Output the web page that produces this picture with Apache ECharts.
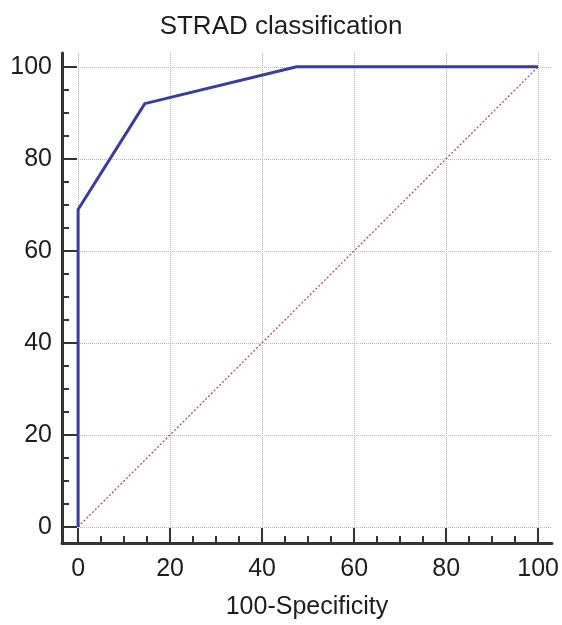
<!DOCTYPE html>
<html>
<head>
<meta charset="utf-8">
<script src="https://cdn.jsdelivr.net/npm/echarts@6/dist/echarts.min.js"></script>
<style>
  html, body { margin: 0; padding: 0; background: #fff; }
  #chart { width: 562px; height: 625px; }
</style>
</head>
<body>
<div id="chart"></div>
<script>
// ROC curve points (100-Specificity, Sensitivity)
const fpr = [0, 0, 14.5, 47.5, 100]
const tpr = [0, 69, 92, 100, 100]
// reference diagonal
const diagX = [0, 100]
const diagY = [0, 100]
const majorTicks = [0, 20, 40, 60, 80, 100]
const minorTicks = [5, 10, 15, 25, 30, 35, 45, 50, 55, 65, 70, 75, 85, 90, 95]

const axisColor = '#333'
const font = 'Liberation Sans, Arial, sans-serif'

const myChart = echarts.init(document.getElementById('chart'))

function majorAxis(isX) {
  return {
    type: 'value',
    min: -3.5,
    max: 103,
    name: isX ? '100-Specificity' : '',
    nameLocation: 'middle',
    nameGap: 52,
    nameTextStyle: { fontSize: 25, color: '#1e1e1e', fontFamily: font },
    axisLine: { show: true, onZero: false, lineStyle: { color: axisColor, width: 3 } },
    axisTick: {
      show: true,
      inside: true,
      length: 15,
      customValues: majorTicks,
      lineStyle: { color: axisColor, width: 2 }
    },
    axisLabel: {
      customValues: majorTicks,
      fontSize: 25,
      color: '#1e1e1e',
      fontFamily: font,
      margin: isX ? 14 : 10
    },
    splitLine: {
      show: true,
      lineStyle: { color: '#b8b8b8', type: 'dotted', width: 1 }
    }
  }
}

function minorAxis() {
  return {
    type: 'value',
    min: -3.5,
    max: 103,
    axisLine: { show: false, onZero: false },
    axisTick: {
      show: true,
      inside: true,
      length: 7,
      customValues: minorTicks,
      lineStyle: { color: axisColor, width: 2 }
    },
    axisLabel: { show: false },
    splitLine: { show: false }
  }
}

const xMinor = minorAxis()
xMinor.position = 'bottom'
const yMinor = minorAxis()
yMinor.position = 'left'

myChart.setOption({
  animation: false,
  title: {
    text: 'STRAD classification',
    left: 'center',
    top: 9,
    textStyle: { fontSize: 26, fontWeight: 'normal', color: '#1e1e1e', fontFamily: font }
  },
  grid: {
    left: 62,
    right: 9,
    top: 53,
    bottom: 81
  },
  xAxis: [majorAxis(true), xMinor],
  yAxis: [majorAxis(false), yMinor],
  series: [
    {
      name: 'diagonal',
      type: 'line',
      symbol: 'none',
      data: diagX.map((x, i) => [x, diagY[i]]),
      lineStyle: { color: '#9c4c3e', width: 1.2, type: [2, 2] }
    },
    {
      name: 'ROC',
      type: 'line',
      symbol: 'none',
      data: fpr.map((x, i) => [x, tpr[i]]),
      lineStyle: { color: '#3a3d9c', width: 3 }
    }
  ]
})
</script>
</body>
</html>
